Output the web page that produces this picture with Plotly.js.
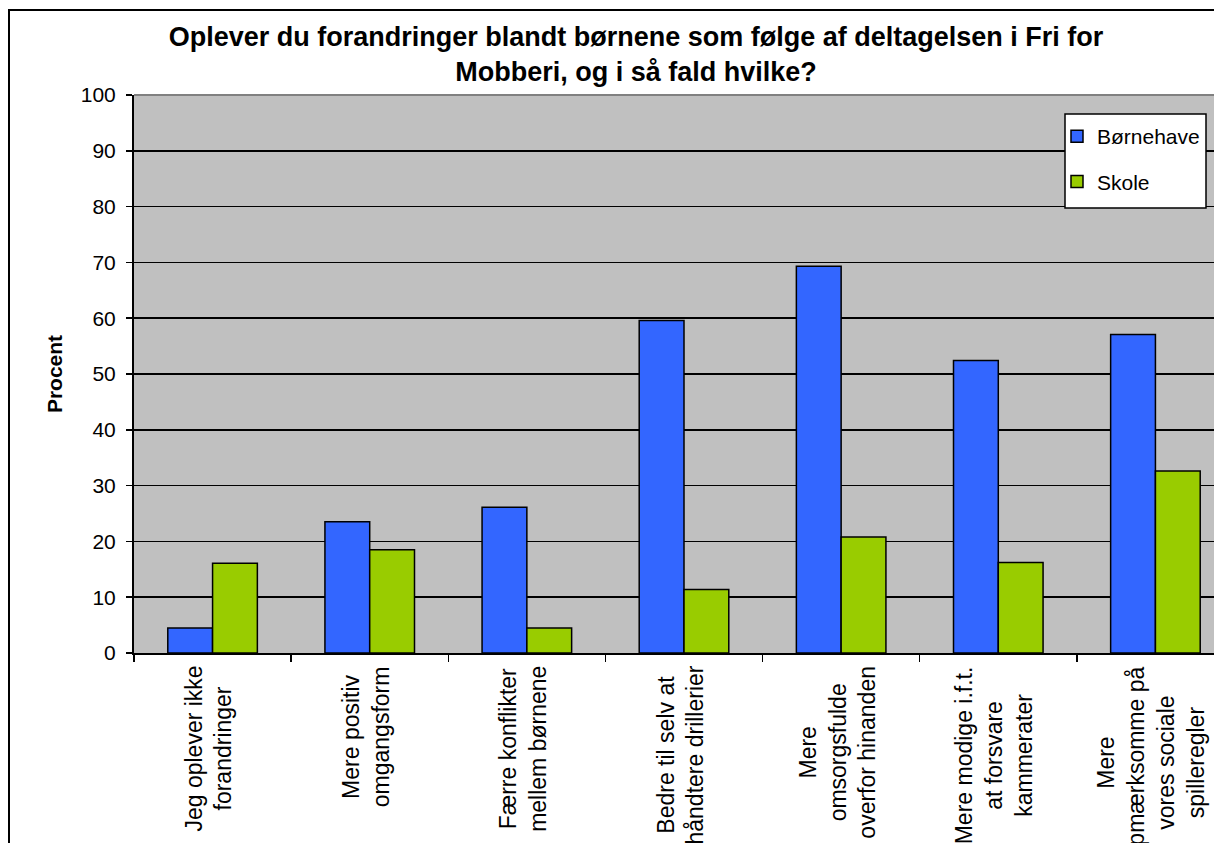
<!DOCTYPE html>
<html>
<head>
<meta charset="utf-8">
<script src="https://cdn.plot.ly/plotly-3.0.1.min.js"></script>
<style>
html, body { margin: 0; padding: 0; overflow: hidden; background: #ffffff; width: 1214px; height: 843px; }
#wrap { position: absolute; left: 0; top: 0; width: 1214px; height: 843px; overflow: hidden; }
#chart { position: absolute; left: 0; top: 0; width: 1300px; height: 900px; }
</style>
</head>
<body>
<div id="wrap"><div id="chart"></div></div>
<script>
const categories = [
  "Jeg oplever ikke<br>forandringer",
  "Mere positiv<br>omgangsform",
  "Færre konflikter<br>mellem børnene",
  "Bedre til selv at<br>håndtere drillerier",
  "Mere<br>omsorgsfulde<br>overfor hinanden",
  "Mere modige i.f.t.<br>at forsvare<br>kammerater",
  "Mere<br>opmærksomme på<br>vores sociale<br>spilleregler"
];
const boernehave = [4.5, 23.5, 26.1, 59.6, 69.3, 52.4, 57.1];
const skole = [16.1, 18.5, 4.5, 11.4, 20.8, 16.2, 32.6];
const seriesNames = ["Børnehave", "Skole"];
const yTicks = [0, 10, 20, 30, 40, 50, 60, 70, 80, 90, 100];
const titleText = "Oplever du forandringer blandt børnene som følge af deltagelsen i Fri for<br>Mobberi, og i så fald hvilke?";
const yTitle = "Procent";

const FONT = "Liberation Sans, Arial, Helvetica, sans-serif";

const traces = [
  {
    type: "bar", name: seriesNames[0], x: categories, y: boernehave,
    marker: { color: "#3366FF", line: { color: "#000000", width: 1.5 } },
    legendgroup: "a"
  },
  {
    type: "bar", name: seriesNames[1], x: categories, y: skole,
    marker: { color: "#99CC00", line: { color: "#000000", width: 1.5 } },
    legendgroup: "b"
  }
];

const annotations = categories.map(c => ({
  x: c, xref: "x", y: 0, yref: "paper",
  yanchor: "top", xanchor: "center", yshift: -11, xshift: -4,
  text: c, textangle: -90, align: "center", showarrow: false,
  font: { family: FONT, size: 23, color: "#000000" }
}));

const px2x = p => (p - 134) / 1100;
const px2y = p => 1 - (p - 95) / 558;

const layout = {
  width: 1300, height: 900,
  margin: { l: 134, r: 66, t: 95, b: 247 },
  paper_bgcolor: "rgba(0,0,0,0)",
  plot_bgcolor: "#C0C0C0",
  font: { family: FONT, color: "#000000", size: 21 },
  title: {
    text: titleText,
    font: { family: FONT, size: 27, weight: "bold", color: "#000000" },
    xref: "container", x: 636 / 1300, xanchor: "center",
    yref: "container", y: 1 - 46 / 900, yanchor: "middle"
  },
  barmode: "group", bargap: 0.43, bargroupgap: 0,
  showlegend: true,
  legend: {
    x: px2x(1057), xanchor: "left",
    y: px2y(116), yanchor: "top",
    bgcolor: "rgba(0,0,0,0)", borderwidth: 0,
    font: { family: FONT, size: 21, color: "#000000" },
    tracegroupgap: 15, traceorder: "grouped"
  },
  xaxis: {
    type: "category",
    showticklabels: false,
    ticks: "outside", ticklen: 7, tickcolor: "#000000", tickwidth: 1.5,
    tickson: "boundaries",
    showline: true, linecolor: "#000000", linewidth: 2,
    showgrid: false, zeroline: false, fixedrange: true
  },
  yaxis: {
    range: [0, 100], tickvals: yTicks, ticktext: yTicks.map(String),
    ticks: "outside", ticklen: 6, tickcolor: "#000000", tickwidth: 1.5,
    ticklabelstandoff: 6,
    showline: true, linecolor: "#000000", linewidth: 2,
    showgrid: true, gridcolor: "#000000", gridwidth: 1.6,
    zeroline: false,
    tickfont: { family: FONT, size: 21, color: "#000000" },
    title: { text: yTitle, font: { family: FONT, size: 21, weight: "bold", color: "#000000" }, standoff: 12 }
  },
  annotations: annotations,
  shapes: [
    { type: "line", xref: "paper", yref: "paper", x0: 0, x1: 1, y0: 1, y1: 1,
      line: { color: "#808080", width: 2 }, layer: "above" },
    { type: "rect", xref: "paper", yref: "paper",
      x0: px2x(1065), x1: px2x(1206), y0: px2y(208), y1: px2y(114),
      line: { color: "#000000", width: 1.5 }, fillcolor: "#FFFFFF", layer: "above" },
    { type: "rect", xref: "paper", yref: "paper",
      x0: px2x(9), x1: px2x(1263), y0: -0.6, y1: px2y(10),
      line: { color: "#000000", width: 2 }, fillcolor: "rgba(0,0,0,0)", layer: "above" }
  ]
};

Plotly.newPlot("chart", traces, layout, { displayModeBar: false, staticPlot: true });
</script>
</body>
</html>
